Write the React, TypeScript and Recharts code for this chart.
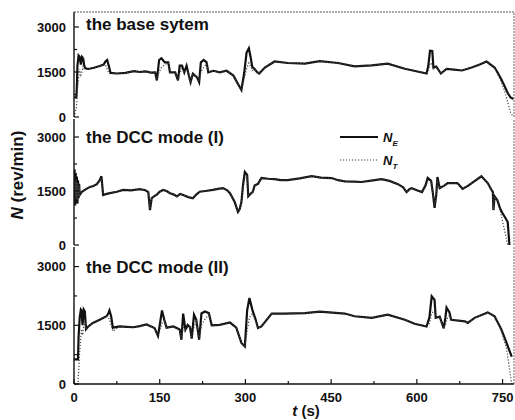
import { Legend, Line, LineChart, ReferenceLine, XAxis, YAxis } from "recharts";

const FONT = "Arial, 'Liberation Sans', Helvetica, sans-serif";

// time (s) and speeds (rev/min)
const timeBase = [
  0, 4, 5, 6, 8, 10, 12, 14, 16, 18,
  20, 25, 35, 45, 52, 55, 58, 61, 64, 75,
  90, 105, 115, 125, 135, 142, 145, 149, 153, 159,
  165, 168, 177, 182, 185, 189, 193, 197, 201, 204,
  208, 215, 219, 222, 227, 232, 235, 244, 255, 267,
  279, 287, 293, 298, 302, 306, 309, 312, 316, 320,
  324, 334, 351, 374, 404, 430, 462, 491, 521, 549,
  579, 591, 605, 617, 620, 623, 627, 629, 634, 642,
  652, 665, 679, 696, 710, 722, 736, 741, 748, 753,
  759, 764, 769,
];
const neBase = [
  650, 650, 1000, 1700, 2050, 2000, 1750, 2000, 1950, 1700,
  1620, 1600, 1640, 1700, 1750, 1850, 1900, 1700, 1470, 1450,
  1470, 1530, 1500, 1520, 1480, 1490, 1220, 1900, 1960, 1820,
  1820, 1490, 1490, 1220, 1710, 1710, 1490, 1710, 1380, 1160,
  1440, 1330, 1160, 1820, 1900, 1820, 1490, 1540, 1490, 1540,
  1380, 1100, 900, 1490, 2150, 2290, 2000, 1670, 1600, 1500,
  1450, 1650, 1850, 1800, 1780, 1860, 1800, 1690, 1720, 1780,
  1610, 1560, 1500, 1450, 1700, 2210, 2200, 1650, 1680, 1450,
  1600, 1580, 1550, 1650, 1750, 1850, 1650, 1490, 1250, 1050,
  800, 650, 600,
];
const ntBase = [
  0, 300, 500, 900, 1300, 1600, 1400, 1500, 1700, 1600,
  1580, 1600, 1640, 1700, 1750, 1750, 1600, 1450, 1450, 1450,
  1470, 1530, 1500, 1520, 1480, 1490, 1250, 1500, 1650, 1750,
  1800, 1500, 1490, 1250, 1450, 1600, 1490, 1600, 1400, 1200,
  1420, 1330, 1200, 1500, 1650, 1780, 1500, 1540, 1490, 1540,
  1380, 1100, 920, 1300, 1600, 1800, 1700, 1550, 1580, 1500,
  1450, 1650, 1850, 1800, 1780, 1860, 1800, 1690, 1720, 1780,
  1610, 1560, 1500, 1450, 1500, 1800, 1750, 1600, 1650, 1450,
  1600, 1580, 1550, 1650, 1750, 1850, 1650, 1450, 1150, 900,
  500, 150, 0,
];

const timeDcc1 = [
  0, 1, 2, 3, 4, 5, 6, 7, 8, 9,
  10, 14, 19, 24, 28, 34, 40, 45, 48, 51,
  57, 63, 75, 86, 100, 115, 125, 130, 133, 136,
  140, 145, 150, 156, 162, 168, 175, 180, 186, 191,
  200, 208, 214, 220, 230, 243, 252, 261, 268, 273,
  281, 287, 290, 293, 296, 299, 303, 305, 309, 313,
  316, 322, 328, 340, 351, 362, 374, 395, 416, 432,
  451, 462, 474, 490, 503, 520, 538, 552, 567, 576,
  582, 587, 591, 600, 609, 615, 619, 625, 628, 631,
  634, 636, 640, 648, 654, 665, 671, 680, 690, 696,
  713, 724, 730, 733, 734, 736, 741, 746, 750, 755,
  759, 762,
];
const neDcc1 = [
  1800, 2100, 1100, 2000, 1200, 1900, 1150, 1800, 1300, 1700,
  1390, 1480, 1530, 1580, 1610, 1640, 1690, 1800, 1910, 1390,
  1420, 1440, 1480, 1530, 1520, 1550, 1520, 1470, 970, 1300,
  1350, 1400, 1480, 1530, 1500, 1440, 1400, 1350, 1420, 1390,
  1330, 1300, 1400, 1480, 1500, 1530, 1560, 1580, 1520, 1440,
  1200, 920, 1000, 1200, 1700, 2030, 1950, 1350, 1420, 1480,
  1650, 1700, 1860, 1840, 1830, 1800, 1800, 1850, 1910, 1870,
  1860, 1800, 1770, 1760, 1750, 1790, 1830, 1780, 1690, 1600,
  1470, 1550, 1580, 1520, 1470, 1650, 1860, 1780, 1450, 1030,
  1400, 1890, 1580, 1650, 1720, 1720, 1720, 1560, 1650, 1720,
  1910, 1720, 1550, 1470, 970, 1350, 1240, 1000, 880, 750,
  640, 0,
];
const ntDcc1 = [
  1500, 1900, 1200, 1800, 1300, 1750, 1250, 1700, 1350, 1650,
  1390, 1480, 1530, 1580, 1610, 1640, 1690, 1780, 1850, 1420,
  1420, 1440, 1480, 1530, 1520, 1550, 1520, 1470, 1000, 1300,
  1350, 1400, 1480, 1530, 1500, 1440, 1400, 1350, 1420, 1390,
  1330, 1300, 1400, 1480, 1500, 1530, 1560, 1580, 1520, 1440,
  1200, 940, 1000, 1200, 1600, 1900, 1950, 1400, 1420, 1480,
  1650, 1700, 1860, 1840, 1830, 1800, 1800, 1850, 1910, 1870,
  1860, 1800, 1770, 1760, 1750, 1790, 1830, 1780, 1690, 1600,
  1470, 1550, 1580, 1520, 1470, 1600, 1800, 1780, 1450, 1100,
  1400, 1800, 1580, 1650, 1720, 1720, 1720, 1560, 1650, 1720,
  1910, 1720, 1550, 1470, 1000, 1350, 1240, 950, 650, 300,
  0, 0,
];

const timeDcc2 = [
  0, 7, 8, 10, 12, 13, 15, 17, 19, 21,
  25, 33, 45, 57, 60, 62, 65, 68, 80, 92,
  104, 115, 127, 141, 147, 150, 154, 158, 162, 174,
  185, 188, 191, 195, 199, 203, 206, 210, 214, 219,
  223, 229, 236, 241, 255, 273, 284, 293, 299, 303,
  307, 312, 318, 322, 328, 346, 369, 404, 430, 474,
  491, 521, 549, 579, 596, 617, 622, 626, 631, 633,
  640, 647, 650, 652, 657, 660, 684, 689, 701, 724,
  736, 748, 757, 762, 766,
];
const neDcc2 = [
  630, 630, 1200, 1700, 1900, 1880, 1500, 1900, 1850, 1400,
  1470, 1560, 1640, 1730, 1800, 1880, 1730, 1440, 1470, 1460,
  1450, 1480, 1520, 1430, 1230, 1500, 1880, 1640, 1440, 1470,
  1390, 1130, 1800, 1390, 1510, 1450, 1160, 1770, 1640, 1130,
  1800, 1850, 1810, 1500, 1510, 1570, 1440, 1050, 960, 1880,
  2200, 1900, 1640, 1430, 1470, 1800, 1800, 1810, 1850, 1800,
  1730, 1690, 1770, 1640, 1540, 1470, 1700, 2240, 2150, 1690,
  1720, 1420, 1700, 1950, 1830, 1640, 1600, 1560, 1690, 1830,
  1730, 1390, 1050, 850, 700,
];
const ntDcc2 = [
  0, 0, 300, 800, 1200, 1400, 1250, 1500, 1600, 1400,
  1470, 1560, 1640, 1730, 1700, 1650, 1500, 1350, 1470, 1460,
  1450, 1480, 1520, 1430, 1250, 1350, 1550, 1600, 1440, 1470,
  1390, 1150, 1450, 1390, 1450, 1450, 1180, 1450, 1600, 1150,
  1500, 1650, 1780, 1500, 1510, 1570, 1440, 1050, 960, 1350,
  1700, 1800, 1600, 1430, 1470, 1800, 1800, 1810, 1850, 1800,
  1730, 1690, 1770, 1640, 1540, 1470, 1550, 1800, 1900, 1690,
  1720, 1420, 1500, 1650, 1750, 1640, 1600, 1560, 1690, 1830,
  1730, 1350, 900, 400, 0,
];

const xTicks = [0, 75, 150, 225, 300, 375, 450, 525, 600, 675, 750];
const yTicks = [0, 750, 1500, 2250, 3000];

const rows = (t: number[], ne: number[], nt: number[]) =>
  t.map((v, i) => ({ t: v, ne: ne[i], nt: nt[i] }));

function XTick(props: any) {
  const { x, y, payload, showLabel } = props;
  const major = payload.value % 150 === 0;
  return (
    <g>
      <line x1={x} x2={x} y1={y} y2={y - (major ? 5 : 3)} stroke="#111" strokeWidth={1.2} />
      {showLabel && major && (
        <text x={x} y={y + 18} textAnchor="middle" fontSize={13} fontWeight="bold" fill="#111" fontFamily={FONT}>
          {payload.value}
        </text>
      )}
    </g>
  );
}

function YTick(props: any) {
  const { x, y, payload } = props;
  const major = payload.value % 1500 === 0;
  return (
    <g>
      <line x1={x} x2={x + (major ? 5 : 3)} y1={y} y2={y} stroke="#111" strokeWidth={1.2} />
      {major && (
        <text x={x - 8} y={y + 4.5} textAnchor="end" fontSize={13} fontWeight="bold" fill="#111" fontFamily={FONT}>
          {payload.value}
        </text>
      )}
    </g>
  );
}

function LegendBox() {
  const txt = { fontFamily: FONT, fontWeight: "bold" as const, fontStyle: "italic" as const, fill: "#111" };
  return (
    <svg width={70} height={42}>
      <line x1={0} x2={38} y1={8} y2={8} stroke="#111" strokeWidth={2} />
      <text x={43} y={13} fontSize={13} {...txt}>
        N<tspan fontSize={8} dy={4}>E</tspan>
      </text>
      <line x1={0} x2={38} y1={31} y2={31} stroke="#444" strokeWidth={1.2} strokeDasharray="1.2 1.8" />
      <text x={43} y={36} fontSize={13} {...txt}>
        N<tspan fontSize={8} dy={4}>T</tspan>
      </text>
    </svg>
  );
}

interface PanelProps {
  data: { t: number; ne: number; nt: number }[];
  top: number;
  height: number;
  marginTop: number;
  xLabels?: boolean;
  topBorder?: boolean;
  legend?: boolean;
}

function Panel({ data, top, height, marginTop, xLabels, topBorder, legend }: PanelProps) {
  return (
    <div style={{ position: "absolute", left: 0, top }}>
      <LineChart
        width={515}
        height={height}
        data={data}
        margin={{ top: marginTop, right: 1, bottom: xLabels ? 0 : 9, left: 0 }}
      >
        <XAxis
          dataKey="t"
          type="number"
          domain={[0, 770]}
          ticks={xTicks}
          interval={0}
          allowDataOverflow
          height={xLabels ? 36 : 0}
          tickSize={0}
          tickMargin={0}
          tickLine={false}
          axisLine={{ stroke: "#111", strokeWidth: 1.4 }}
          tick={(p: any) => <XTick {...p} showLabel={xLabels} />}
        />
        <YAxis
          type="number"
          domain={[0, 3500]}
          ticks={yTicks}
          interval={0}
          allowDataOverflow
          width={74}
          tickSize={0}
          tickMargin={0}
          tickLine={false}
          axisLine={{ stroke: "#111", strokeWidth: 1.4 }}
          tick={(p: any) => <YTick {...p} />}
        />
        {topBorder && <ReferenceLine y={3500} stroke="#555" strokeDasharray="2 1" />}
        <ReferenceLine x={770} stroke="#666" strokeDasharray="2 1" />
        {legend && (
          <Legend
            layout="vertical"
            align="center"
            verticalAlign="middle"
            wrapperStyle={{ left: 340, top: 12, width: 70 }}
            content={() => <LegendBox />}
          />
        )}
        <Line
          type="linear"
          dataKey="ne"
          name="N_E"
          stroke="#111"
          strokeWidth={2.2}
          dot={false}
          isAnimationActive={false}
        />
        <Line
          type="linear"
          dataKey="nt"
          name="N_T"
          stroke="#444"
          strokeWidth={1.2}
          strokeDasharray="1.2 1.8"
          dot={false}
          isAnimationActive={false}
        />
      </LineChart>
    </div>
  );
}

export default function App() {
  const bold = { fontFamily: FONT, fontWeight: "bold" as const, fill: "#111" };
  return (
    <div
      style={{
        position: "absolute",
        left: 0,
        top: 0,
        width: 515,
        height: 420,
        background: "#fff",
        overflow: "hidden",
        fontFamily: FONT,
      }}
    >
      <Panel data={rows(timeBase, neBase, ntBase)} top={0} height={126} marginTop={12} topBorder />
      <Panel data={rows(timeDcc1, neDcc1, ntDcc1)} top={117} height={137} marginTop={2} legend />
      <Panel data={rows(timeDcc2, neDcc2, ntDcc2)} top={245} height={175} marginTop={2} xLabels />
      <svg
        width={515}
        height={420}
        style={{ position: "absolute", left: 0, top: 0, pointerEvents: "none" }}
      >
        <text x={86} y={30} fontSize={17} {...bold}>the base sytem</text>
        <text x={86} y={143} fontSize={17} {...bold}>the DCC mode (I)</text>
        <text x={86} y={273} fontSize={17} {...bold}>the DCC mode (II)</text>
        <text transform="translate(23,175) rotate(-90)" textAnchor="middle" fontSize={17} {...bold}>
          <tspan fontStyle="italic">N</tspan> (rev/min)
        </text>
        <text x={306} y={416} textAnchor="middle" fontSize={15} {...bold}>
          <tspan fontStyle="italic">t</tspan> (s)
        </text>
      </svg>
    </div>
  );
}
